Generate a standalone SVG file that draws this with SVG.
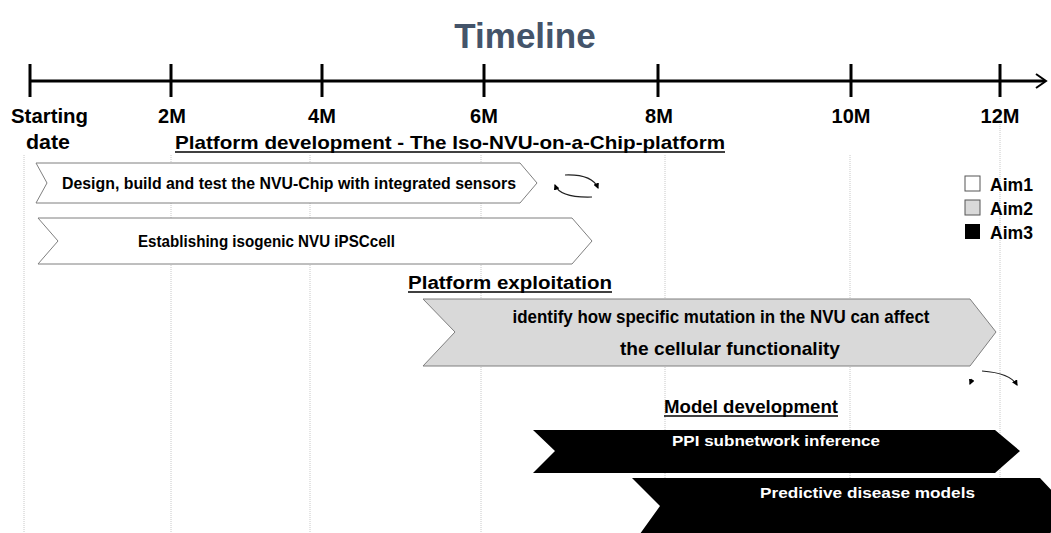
<svg xmlns="http://www.w3.org/2000/svg" width="1051" height="533" viewBox="0 0 1051 533">
<style>
.t{font-family:"Liberation Sans",Arial,sans-serif;font-weight:bold;fill:#000}
.lbl{font-size:20px}
.grid{stroke:#c8c8c8;stroke-width:1;stroke-dasharray:1 1;fill:none}
.ax{stroke:#000;stroke-width:3;fill:none}
.ul{stroke:#000;stroke-width:1.5}
.w{fill:#fff;stroke:#7f7f7f;stroke-width:1}
.g{fill:#d9d9d9;stroke:#7f7f7f;stroke-width:1}
.b{fill:#000}
.arc{fill:none;stroke:#222;stroke-width:1.2}
</style>
<defs>
<marker id="ah" viewBox="0 0 10 10" refX="8" refY="5" markerWidth="5" markerHeight="5" orient="auto">
<path d="M0,0 L10,5 L0,10 z" fill="#000"/>
</marker>
</defs>
<rect width="1051" height="533" fill="#fff"/>
<g id="gridlines">
<line class="grid" x1="24" y1="155" x2="24" y2="533"/>
<line class="grid" x1="171" y1="155" x2="171" y2="533"/>
<line class="grid" x1="310" y1="155" x2="310" y2="533"/>
<line class="grid" x1="481" y1="155" x2="481" y2="533"/>
<line class="grid" x1="665" y1="155" x2="665" y2="533"/>
<line class="grid" x1="850" y1="155" x2="850" y2="533"/>
<line class="grid" x1="1000" y1="112" x2="1000" y2="533"/>
</g>
<g id="title">
<text class="t" x="525" y="48" text-anchor="middle" style="font-size:35px;fill:#44546a">Timeline</text>
</g>
<g id="axis">
<line class="ax" x1="30" y1="81" x2="1045" y2="81"/>
<path d="M1036,74 L1046,81 L1036,88" fill="none" stroke="#000" stroke-width="2"/>
<line class="ax" x1="30" y1="64" x2="30" y2="97"/>
<line class="ax" x1="171" y1="64" x2="171" y2="97"/>
<line class="ax" x1="322" y1="64" x2="322" y2="97"/>
<line class="ax" x1="484" y1="64" x2="484" y2="97"/>
<line class="ax" x1="658" y1="64" x2="658" y2="97"/>
<line class="ax" x1="851" y1="64" x2="851" y2="97"/>
<line class="ax" x1="1000" y1="64" x2="1000" y2="97"/>
<text class="t lbl" x="11" y="123" textLength="77" lengthAdjust="spacingAndGlyphs">Starting</text>
<text class="t lbl" x="26" y="149" textLength="44" lengthAdjust="spacingAndGlyphs">date</text>
<text class="t lbl" x="172" y="123" text-anchor="middle">2M</text>
<text class="t lbl" x="322" y="123" text-anchor="middle">4M</text>
<text class="t lbl" x="484" y="123" text-anchor="middle">6M</text>
<text class="t lbl" x="659" y="123" text-anchor="middle">8M</text>
<text class="t lbl" x="851" y="123" text-anchor="middle">10M</text>
<text class="t lbl" x="1000" y="123" text-anchor="middle">12M</text>
</g>
<g id="section-platform-development">
<text class="t" x="175" y="149" style="font-size:18.5px" textLength="550" lengthAdjust="spacingAndGlyphs">Platform  development - The Iso-NVU-on-a-Chip-platform</text>
<line class="ul" x1="175" y1="152" x2="725" y2="152"/>
</g>
<g id="task-design-chip">
<path class="w" d="M36,163 L520,163 L537,183 L520,203 L36,203 L47,183 Z"/>
<text class="t" x="62" y="189" style="font-size:16px" textLength="454" lengthAdjust="spacingAndGlyphs">Design, build and test the NVU-Chip with integrated sensors</text>
</g>
<g id="task-ipsc">
<path class="w" d="M38,218 L572,218 L592,241 L572,264 L38,264 L58,241 Z"/>
<text class="t" x="138" y="247" style="font-size:17px" textLength="257" lengthAdjust="spacingAndGlyphs">Establishing isogenic NVU iPSCcell</text>
</g>
<g id="section-platform-exploitation">
<text class="t" x="408" y="289" style="font-size:18px" textLength="204" lengthAdjust="spacingAndGlyphs">Platform  exploitation</text>
<line class="ul" x1="408" y1="292" x2="612" y2="292"/>
</g>
<g id="task-mutation">
<path class="g" d="M423,299 L970,299 L996,332 L970,366 L423,366 L455,332 Z"/>
<text class="t" x="721" y="323" text-anchor="middle" style="font-size:19px" textLength="417" lengthAdjust="spacingAndGlyphs">identify how specific mutation in the NVU  can affect</text>
<text class="t" x="730" y="355" text-anchor="middle" style="font-size:19px" textLength="220" lengthAdjust="spacingAndGlyphs">the cellular functionality</text>
</g>
<g id="section-model-development">
<text class="t" x="664" y="413" style="font-size:17.5px" textLength="174" lengthAdjust="spacingAndGlyphs">Model development</text>
<line class="ul" x1="664" y1="416" x2="838" y2="416"/>
</g>
<g id="task-ppi">
<path class="b" d="M533,430 L995,430 L1020,451 L995,473 L533,473 L555,451 Z"/>
<text class="t" x="672" y="446" style="font-size:15.5px;fill:#fff" textLength="208" lengthAdjust="spacingAndGlyphs">PPI subnetwork inference</text>
</g>
<g id="task-predictive">
<path class="b" d="M632,478 L1040,478 L1070,510 L1040,545 L632,545 L660,506 Z"/>
<text class="t" x="760" y="498" style="font-size:15.5px;fill:#fff" textLength="215" lengthAdjust="spacingAndGlyphs">Predictive disease models</text>
</g>
<g id="legend">
<rect x="965" y="176" width="15" height="15" fill="#fff" stroke="#555" stroke-width="1"/>
<text class="t" x="990" y="191" style="font-size:17.5px" textLength="43" lengthAdjust="spacingAndGlyphs">Aim1</text>
<rect x="965" y="200" width="15" height="15" fill="#d9d9d9" stroke="#555" stroke-width="1"/>
<text class="t" x="990" y="215" style="font-size:17.5px" textLength="43" lengthAdjust="spacingAndGlyphs">Aim2</text>
<rect x="965" y="224" width="15" height="15" fill="#000"/>
<text class="t" x="990" y="239" style="font-size:17.5px" textLength="43" lengthAdjust="spacingAndGlyphs">Aim3</text>
</g>
<g id="connectors">
<path class="arc" d="M565,175 Q592,174 598,188" marker-end="url(#ah)"/>
<path class="arc" d="M592,197 Q560,198 555,185" marker-end="url(#ah)"/>
<path class="arc" d="M982,371 Q1010,373 1017,385" marker-end="url(#ah)"/>
<path class="arc" d="M972,379 L970,384" marker-end="url(#ah)"/>
</g>
</svg>
